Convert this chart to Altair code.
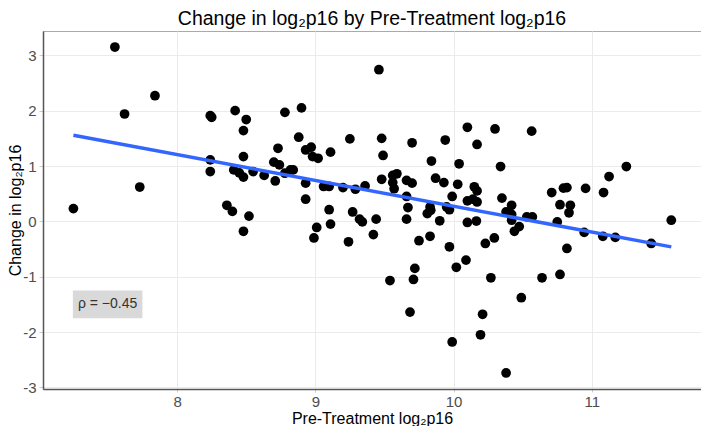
import altair as alt
import pandas as pd

# Pre-treatment log2 p16 (x) and change in log2 p16 (y)
pre_log2p16 = [
    7.25, 7.55, 7.62, 7.73, 7.84, 8.24, 8.25, 8.42, 8.50, 8.48,
    8.48, 8.24, 8.24, 8.41, 8.45, 8.48, 8.55, 8.63, 8.73, 8.70,
    8.74, 8.71, 8.36, 8.40, 8.52, 8.48, 9.46, 8.78, 8.90, 8.88,
    8.93, 8.97, 8.98, 9.02, 9.11, 9.25, 9.48, 9.49, 9.70, 9.84,
    9.87, 8.78, 8.82, 8.84, 8.93, 8.93, 9.06, 9.10, 9.20, 9.29,
    9.36, 9.48, 9.56, 9.59, 9.56, 9.57, 9.66, 9.70, 9.66, 9.67,
    9.66, 9.10, 9.27, 9.32, 9.34, 9.44, 9.11, 9.01, 8.99, 9.24,
    9.42, 9.83, 9.835, 9.81, 9.75, 9.83, 9.72, 9.71, 9.54, 9.685,
    10.10, 10.30, 10.565, 9.94, 10.17, 10.04, 10.34, 11.25, 11.125, 9.93,
    10.03, 10.15, 10.17, 9.99, 10.10, 10.14, 10.17, 10.35, 10.42, 10.71,
    10.795, 10.82, 10.955, 11.085, 10.77, 10.845, 10.835, 9.95, 9.97, 9.90,
    10.10, 10.165, 10.38, 10.42, 10.42, 10.475, 10.44, 10.53, 10.57, 10.75,
    11.575, 10.945, 11.08, 11.17, 11.43, 10.82, 9.97, 10.02, 10.09, 10.23,
    10.295, 10.27, 10.49, 10.64, 10.77, 10.21, 10.195, 9.99, 10.38,
]
change_log2p16 = [
    0.23, 3.15, 1.94, 0.62, 2.27, 1.91, 1.88, 2.00, 1.84, 1.64,
    1.17, 1.11, 0.90, 0.93, 0.875, 0.80, 0.90, 0.83, 1.32, 1.07,
    1.02, 0.73, 0.29, 0.18, 0.095, -0.18, 2.74, 1.97, 2.05, 1.52,
    1.29, 1.34, 1.17, 1.14, 1.25, 1.49, 1.50, 1.19, 1.42, 1.09,
    0.78, 0.87, 0.93, 0.93, 0.69, 0.40, 0.63, 0.63, 0.61, 0.58,
    0.64, 0.76, 0.83, 0.86, 0.70, 0.59, 0.74, 0.69, 0.45, 0.25,
    0.04, 0.21, 0.17, 0.04, -0.01, 0.04, -0.05, -0.11, -0.30, -0.37,
    -0.24, 0.26, 0.20, 0.14, -0.35, -0.27, -0.85, -1.05, -1.07, -1.64,
    1.70, 1.67, 1.63, 1.47, 1.39, 1.04, 0.99, 0.99, 0.81, 0.70,
    0.67, 0.625, 0.55, 0.45, 0.37, 0.40, 0.35, 0.42, 0.29, 0.52,
    0.60, 0.61, 0.595, 0.52, 0.30, 0.29, 0.155, 0.26, 0.21, 0.01,
    -0.02, 0.005, 0.17, 0.125, 0.02, -0.095, -0.18, 0.08, 0.08, -0.01,
    0.02, -0.20, -0.27, -0.29, -0.40, -0.49, -0.46, -0.83, -0.70, -0.40,
    -0.30, -1.02, -1.38, -1.02, -0.96, -1.68, -2.05, -2.18, -2.74,
]
x_ticks = [8, 9, 10, 11]
y_ticks = [-3, -2, -1, 0, 1, 2, 3]
rho_label = ["ρ = −0.45"]

df = pd.DataFrame({"pre": pre_log2p16, "change": change_log2p16})
ann = pd.DataFrame({"label": rho_label})

FONT = "Liberation Sans"
x_scale = alt.Scale(domain=[7.03, 11.79], nice=False, zero=False)
y_scale = alt.Scale(domain=[-3.03, 3.44], nice=False, zero=False)

x_enc = alt.X(
    "pre:Q", scale=x_scale,
    axis=alt.Axis(values=x_ticks, title="Pre-Treatment log₂p16", titleFontSize=16,
                  labelExpr="toString(datum.value)", tickSize=3, labelPadding=2,
                  titlePadding=1),
)
y_enc = alt.Y(
    "change:Q", scale=y_scale,
    axis=alt.Axis(values=y_ticks, title="Change in log₂p16", titleFontSize=16,
                  labelExpr="toString(datum.value)", tickSize=4, labelPadding=3,
                  titleX=-28, titleBaseline="middle"),
)

points = alt.Chart(df).mark_circle(size=95, color="black", opacity=1).encode(x=x_enc, y=y_enc)

fit = alt.Chart(df).transform_regression("pre", "change").mark_line(
    color="#3366FF", strokeWidth=3.5
).encode(x="pre:Q", y="change:Q")

box = alt.Chart(ann).mark_rect(color="#d9d9d9").encode(
    x=alt.datum(7.246), x2=alt.datum(7.749), y=alt.datum(-1.25), y2=alt.datum(-1.75)
)
txt = alt.Chart(ann).mark_text(fontSize=14, color="#333333", font=FONT).encode(
    x=alt.datum(7.497), y=alt.datum(-1.50), text="label:N"
)

chart = alt.layer(points, fit, box, txt).properties(
    width=658, height=358,
    title=alt.Title("Change in log₂p16 by Pre-Treatment log₂p16", fontSize=19.5,
                    font=FONT, fontWeight="normal", color="black", offset=2),
    autosize=alt.AutoSizeParams(type="none"),
    padding={"left": 35, "top": 23, "right": 0, "bottom": 37},
).configure(font=FONT).configure_view(
    stroke="#aaaaaa", strokeWidth=1
).configure_axis(
    gridColor="#ebebeb", gridWidth=1,
    domainColor="#555555", domainWidth=1.5,
    tickColor="#cccccc",
    labelFontSize=15, labelColor="#4d4d4d", labelFont=FONT,
    titleFontWeight="normal", titleColor="black", titleFont=FONT,
)

chart.save("out.html", embed_options={"renderer": "svg", "actions": False})
